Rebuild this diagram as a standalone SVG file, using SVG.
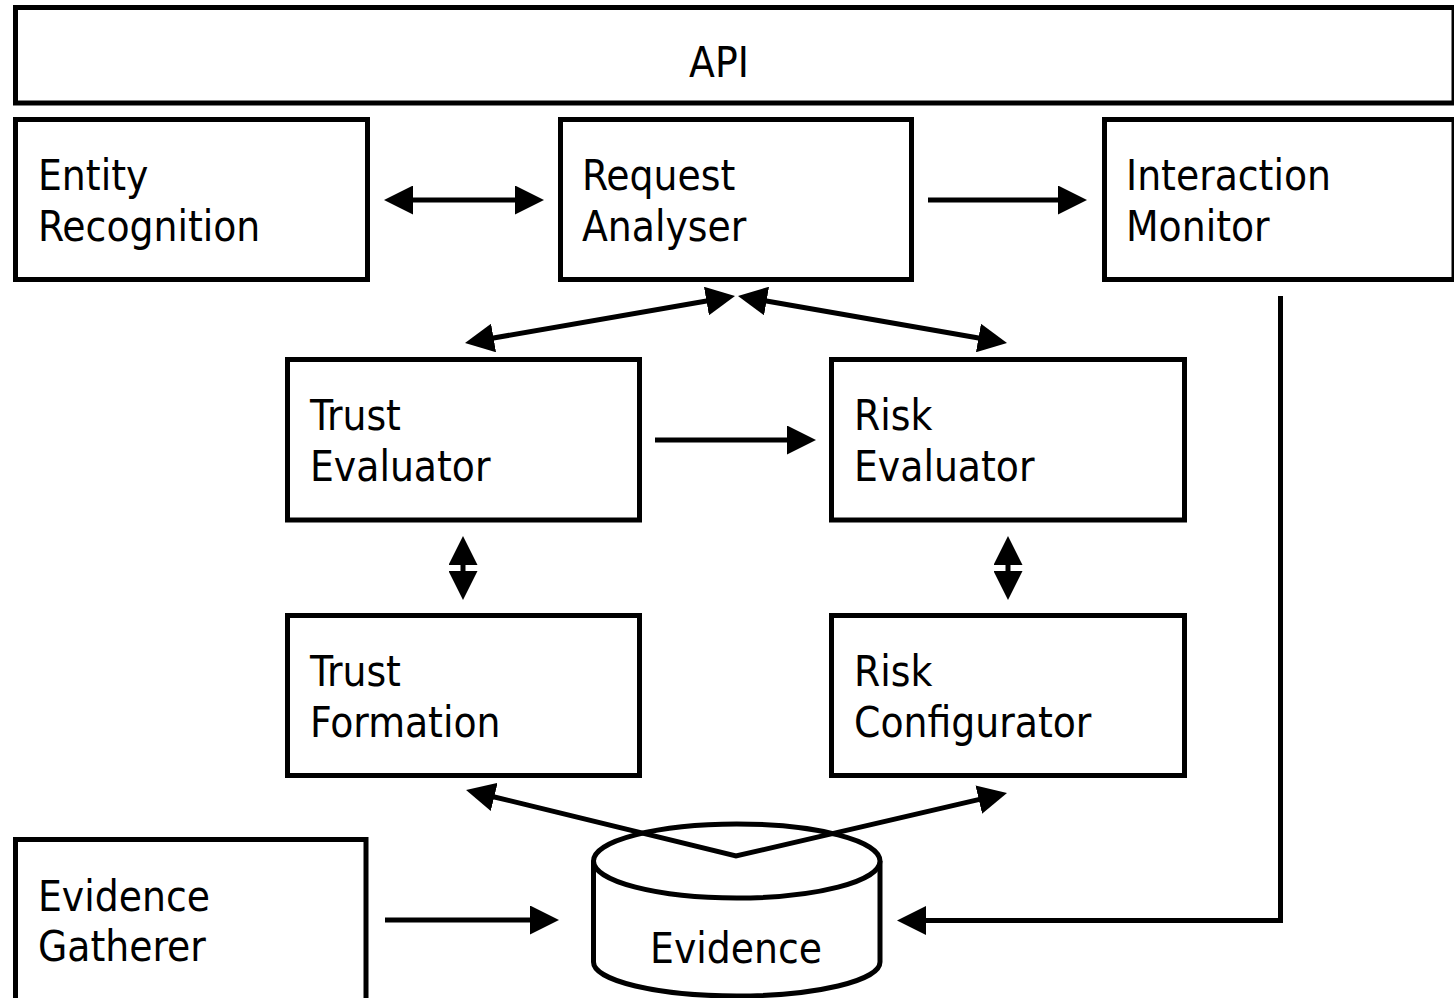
<svg xmlns="http://www.w3.org/2000/svg" width="1454" height="998" viewBox="0 0 1454 998">
  <style>
    .box { fill: #ffffff; stroke: #000000; stroke-width: 5; }
    .lbl { font-family: "DejaVu Sans Condensed", "DejaVu Sans", sans-serif; font-stretch: condensed; font-size: 42px; fill: #000000; }
    .link { fill: none; stroke: #000000; stroke-width: 5; stroke-linejoin: miter; }
  </style>
  <defs>
    <marker id="head" viewBox="0 0 29 29" refX="3" refY="14.5" markerWidth="29" markerHeight="29" markerUnits="userSpaceOnUse" orient="auto-start-reverse">
      <path d="M0,0 L29,14.5 L0,29 z" fill="#000000"/>
    </marker>
  </defs>
  <rect width="1454" height="998" fill="#ffffff"/>

  <g id="api">
    <rect class="box" x="15.5" y="7.5" width="1438.5" height="95.5"/>
    <text class="lbl" x="719" y="77" text-anchor="middle">API</text>
  </g>

  <g id="entity-recognition">
    <rect class="box" x="15.5" y="119.5" width="352" height="160"/>
    <text class="lbl" x="38" y="190">Entity</text>
    <text class="lbl" x="38" y="241">Recognition</text>
  </g>

  <g id="request-analyser">
    <rect class="box" x="560.5" y="119.5" width="351" height="160"/>
    <text class="lbl" x="582" y="190">Request</text>
    <text class="lbl" x="582" y="241">Analyser</text>
  </g>

  <g id="interaction-monitor">
    <rect class="box" x="1104.5" y="119.5" width="349.5" height="160"/>
    <text class="lbl" x="1126" y="190">Interaction</text>
    <text class="lbl" x="1126" y="241">Monitor</text>
  </g>

  <g id="trust-evaluator">
    <rect class="box" x="287.5" y="359.5" width="352" height="160.5"/>
    <text class="lbl" x="310" y="430">Trust</text>
    <text class="lbl" x="310" y="481">Evaluator</text>
  </g>

  <g id="risk-evaluator">
    <rect class="box" x="831.5" y="359.5" width="353" height="160.5"/>
    <text class="lbl" x="854" y="430">Risk</text>
    <text class="lbl" x="854" y="481">Evaluator</text>
  </g>

  <g id="trust-formation">
    <rect class="box" x="287.5" y="615.5" width="352" height="160"/>
    <text class="lbl" x="310" y="686">Trust</text>
    <text class="lbl" x="310" y="737">Formation</text>
  </g>

  <g id="risk-configurator">
    <rect class="box" x="831.5" y="615.5" width="353" height="160"/>
    <text class="lbl" x="854" y="686">Risk</text>
    <text class="lbl" x="854" y="737">Configurator</text>
  </g>

  <g id="evidence-gatherer">
    <rect class="box" x="15.5" y="839.5" width="350.5" height="170"/>
    <text class="lbl" x="38" y="911">Evidence</text>
    <text class="lbl" x="38" y="961">Gatherer</text>
  </g>

  <g id="evidence-store">
    <path class="box" d="M593.5,861 V962 A143.25,34 0 0 0 880,962 V861"/>
    <ellipse class="box" cx="736.75" cy="861" rx="143.25" ry="37"/>
    <text class="lbl" x="736" y="963" text-anchor="middle">Evidence</text>
  </g>

  <g id="connectors">
    <!-- entity recognition <-> request analyser -->
    <line class="link" x1="410" y1="200" x2="518" y2="200" marker-start="url(#head)" marker-end="url(#head)"/>
    <!-- request analyser -> interaction monitor -->
    <line class="link" x1="928" y1="200" x2="1061" y2="200" marker-end="url(#head)"/>
    <!-- request analyser <-> trust evaluator -->
    <line class="link" x1="490.6" y1="338.5" x2="709.4" y2="300.5" marker-start="url(#head)" marker-end="url(#head)"/>
    <!-- request analyser <-> risk evaluator -->
    <line class="link" x1="763.6" y1="300.5" x2="981.4" y2="338.5" marker-start="url(#head)" marker-end="url(#head)"/>
    <!-- trust evaluator -> risk evaluator -->
    <line class="link" x1="655" y1="440" x2="790" y2="440" marker-end="url(#head)"/>
    <!-- trust evaluator <-> trust formation -->
    <line class="link" x1="463" y1="562" x2="463" y2="574" marker-start="url(#head)" marker-end="url(#head)"/>
    <!-- risk evaluator <-> risk configurator -->
    <line class="link" x1="1008" y1="562" x2="1008" y2="574" marker-start="url(#head)" marker-end="url(#head)"/>
    <!-- evidence -> trust formation / risk configurator -->
    <path class="link" d="M491.3,796.2 L736,856 L981.7,798.9" marker-start="url(#head)" marker-end="url(#head)"/>
    <!-- evidence gatherer -> evidence -->
    <line class="link" x1="385" y1="920" x2="533" y2="920" marker-end="url(#head)"/>
    <!-- interaction monitor -> evidence -->
    <path class="link" d="M1280.5,296 V920.5 H923" marker-end="url(#head)"/>
  </g>
</svg>
